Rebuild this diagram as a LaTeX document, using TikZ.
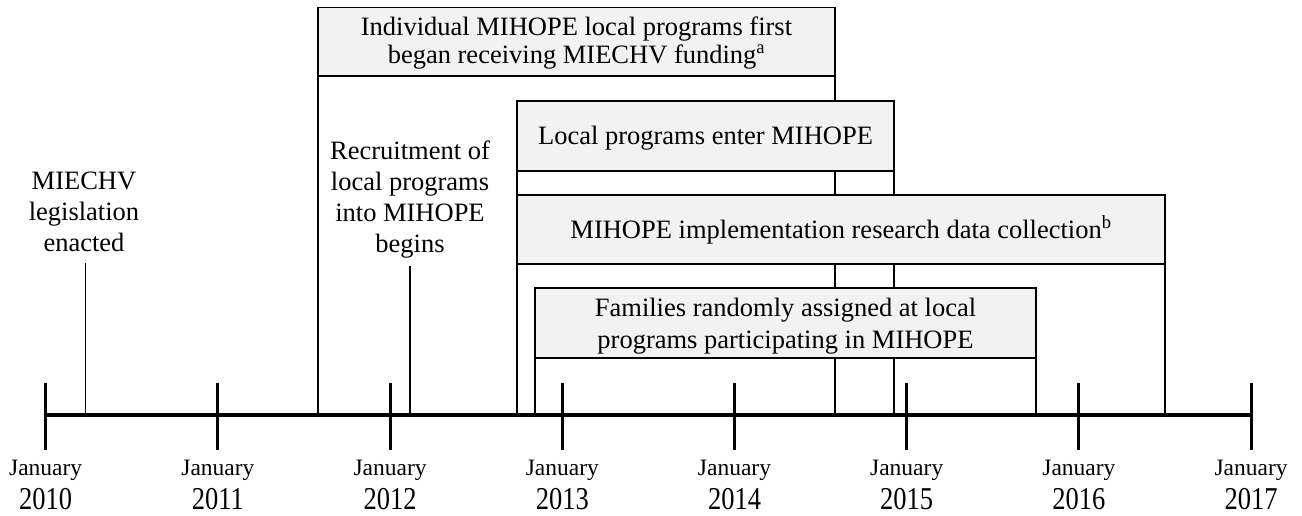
\documentclass[tikz,border=0pt]{standalone}
\usepackage{graphicx}
\usepackage{fontspec}
\setmainfont{Liberation Serif}
\definecolor{boxgray}{HTML}{F2F2F2}
\pgfdeclarelayer{bg}
\pgfdeclarelayer{back}
\pgfsetlayers{bg,back,main}
\newcommand{\mlines}[1]{\begin{tabular}[t]{@{}c@{}}#1\end{tabular}}
\begin{document}
\begin{tikzpicture}[x=1pt,y=-1pt,
  boxst/.style={draw,line width=1.3pt,fill=boxgray,inner sep=0pt,outer sep=0pt},
  conn/.style={line width=1.1pt},
  axisst/.style={line width=3.2pt},
  tickst/.style={line width=3pt},
  txt/.style={inner sep=0pt,outer sep=0pt,anchor=base,font=\fontsize{26.5}{31}\selectfont},
  monthst/.style={inner sep=0pt,outer sep=0pt,anchor=base,font=\fontsize{23.5}{28}\selectfont},
  yearst/.style={inner sep=0pt,outer sep=0pt,anchor=base,font=\fontsize{26.5}{31}\selectfont}]
\useasboundingbox (0,0) rectangle (1302,515);
\begin{pgfonlayer}{bg}
  \fill[white] (0,0) rectangle (1302,515);
\end{pgfonlayer}

% axis
\coordinate (axl) at (45.7,415);
\coordinate (axr) at (1251.1,415);

% boxes
\node[boxst, minimum width=517pt, minimum height=68.7pt] (b1) at (576.5,41.6) {};
\node[boxst, minimum width=377pt, minimum height=70pt] (b2) at (705.5,136) {};
\node[boxst, minimum width=648pt, minimum height=69pt] (b3) at (841,229.5) {};
\node[boxst, minimum width=501pt, minimum height=70pt] (b4) at (785.5,323) {};

% box texts
\node[txt, font=\fontsize{26.5}{28}\selectfont] (t1) at (576.5,35) {\mlines{Individual MIHOPE local programs first\\began receiving MIECHV funding\textsuperscript{a}}};
\node[txt] (t2) at (705.5,144.5) {Local programs enter MIHOPE};
\node[txt] (t3) at (841,238) {MIHOPE implementation research data collection\textsuperscript{b}};
\node[txt, font=\fontsize{26.5}{31.5}\selectfont] (t4) at (785.5,316.5) {\mlines{Families randomly assigned at local\\programs participating in MIHOPE}};

% free labels
\node[txt] (lab1) at (84,189.3) {\mlines{MIECHV\\legislation\\enacted}};
\coordinate (m1top) at (85.5,263);
\node[txt] (lab2) at (410,159) {\mlines{Recruitment of\\local programs\\into MIHOPE\\begins}};
\coordinate (m2top) at (410,266);

% connectors behind the boxes
\begin{pgfonlayer}{back}
  \draw[conn] (b1.south west) -- (b1.south west |- axl);
  \draw[conn] (b1.south east) -- (b1.south east |- axl);
  \draw[conn] (b2.south west) -- (b2.south west |- axl);
  \draw[conn] (b2.south east) -- (b2.south east |- axl);
  \draw[conn] (b3.south west) -- (b3.south west |- axl);
  \draw[conn] (b3.south east) -- (b3.south east |- axl);
  \draw[conn] (b4.south west) -- (b4.south west |- axl);
  \draw[conn] (b4.south east) -- (b4.south east |- axl);
  \draw[conn] (m1top) -- (m1top |- axl);
  \draw[conn] (m2top) -- (m2top |- axl);
\end{pgfonlayer}

\draw[axisst] (axl) -- (axr);

% ticks and dates
\foreach \yr/\xx in {2010/45.7,2011/217.9,2012/390.1,2013/562.3,2014/734.5,2015/906.7,2016/1078.9,2017/1251.1}{
  \coordinate (tk\yr a) at (\xx,382.5);
  \coordinate (tk\yr b) at (\xx,450);
  \draw[tickst] (tk\yr a) -- (tk\yr b);
  \node[monthst] (mo\yr) at (\xx,475.5) {January};
  \node[yearst] (yr\yr) at (\xx,509) {\scalebox{1}[1.2]{\yr}};
}
\end{tikzpicture}
\end{document}
